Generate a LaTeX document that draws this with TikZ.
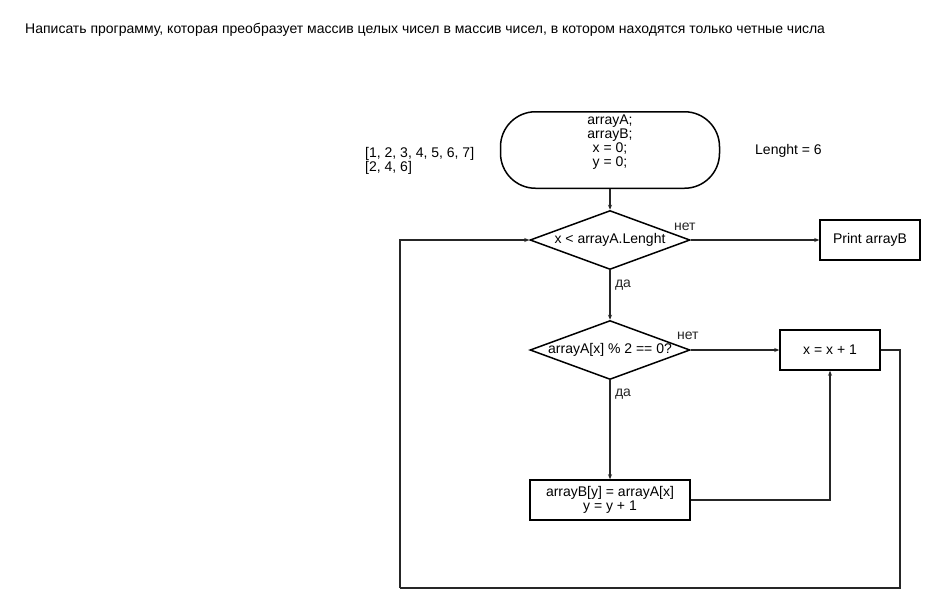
\documentclass[tikz,border=0pt]{standalone}
\usepackage{fontspec}
\setmainfont{Liberation Sans}
\usepackage{tikz}
\usetikzlibrary{arrows.meta, positioning, shapes.geometric, calc}

\begin{document}
\begin{tikzpicture}[x=1pt, y=-1pt,
    every node/.style={font=\fontsize{14}{14}\selectfont},
    terminal/.style={rectangle, draw, line width=1.5pt, rounded corners=35pt,
        minimum width=219pt, minimum height=70pt, align=center},
    decision/.style={diamond, draw, line width=1.5pt, inner xsep=-12pt, inner ysep=0pt,
        aspect=2.7, minimum width=160pt, minimum height=59pt},
    process/.style={rectangle, draw, line width=1.5pt, minimum width=100pt,
        minimum height=40pt, align=center},
    edge/.style={line width=1.2pt, black!85, -{Stealth[length=5pt, width=4pt]}},
    plain/.style={line width=1.2pt, black!85}]
    \useasboundingbox (0,0) rectangle (941,611);

    % Task text
    \node[anchor=west, inner sep=0pt] (task) at (25,30)
        {Написать программу, которая преобразует массив целых чисел в массив чисел, в котором находятся только четные числа};

    % Notes
    \node[anchor=west, align=left, inner sep=0pt] (sample) at (365,161)
        {[1, 2, 3, 4, 5, 6, 7]\\{}[2, 4, 6]};
    \node[anchor=west, inner sep=0pt] (len) at (755,151) {Lenght = 6};

    % Blocks
    \node[terminal] (start) at (610,150) {arrayA;\\arrayB;\\x = 0;\\y = 0;\\\strut};
    \node[decision] (cond) at (610,240) {x < arrayA.Lenght};
    \node[process] (print) at (870,240) {Print arrayB};
    \node[decision] (even) at (610,350) {arrayA[x] \% 2 == 0?};
    \node[process] (inc) at (830,350) {x = x + 1};
    \node[process, minimum width=160pt] (copy) at (610,500) {arrayB[y] = arrayA[x]\\y = y + 1};

    % Loop corners
    \coordinate (loopR) at (900,588);
    \coordinate (loopL) at (400,588);

    % Connectors
    \draw[edge] (start) -- (cond);
    \draw[edge] (cond.east) -- node[pos=0, xshift=-6pt, yshift=13pt] {нет} (print.west);
    \draw[edge] (cond.south) -- node[pos=0, xshift=13pt, yshift=-15pt] {да} (even.north);
    \draw[edge] (even.east) -- node[pos=0, xshift=-3pt, yshift=14pt] {нет} (inc.west);
    \draw[edge] (even.south) -- node[pos=0, xshift=13pt, yshift=-14pt] {да} (copy.north);
    \draw[edge] (copy.east) -| (inc.south);
    \draw[plain] (inc.east) -| (loopR) -- (loopL);
    \draw[edge] (loopL) |- (cond.west);
\end{tikzpicture}
\end{document}
